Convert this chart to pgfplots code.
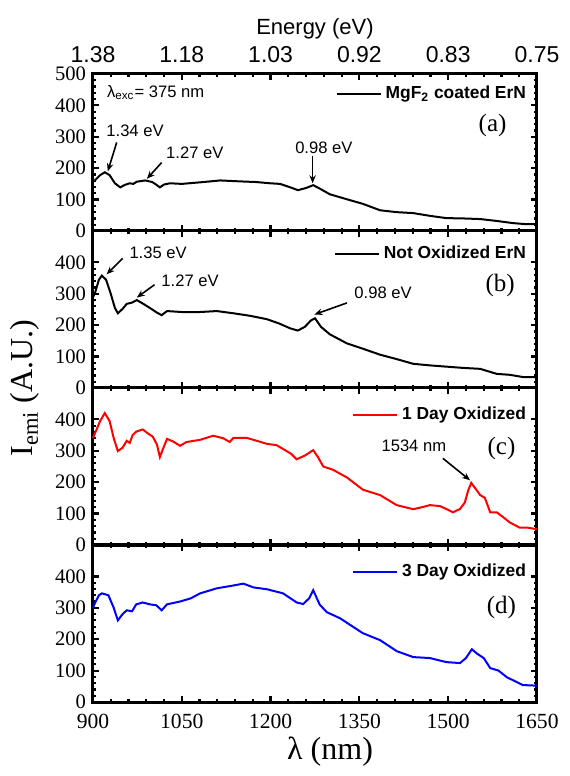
\documentclass[border=0pt]{standalone}
\usepackage{fontspec}
\setmainfont{Liberation Serif}
\setsansfont{Liberation Sans}
\usepackage{pgfplots}
\pgfplotsset{compat=1.18}
\usetikzlibrary{arrows.meta}

\pgfplotsset{
  panel/.style={
    scale only axis, width=222pt, height=78.5pt,
    xmin=900, xmax=1650, ymin=0, ymax=500,
    xtick={900,1050,...,1650}, minor x tick num=4,
    ytick={0,100,...,400}, minor y tick num=4,
    tick align=inside, clip=false,
    axis line style={line width=1.5pt},
    major tick length=3pt, minor tick length=1.6pt,
    every tick/.style={black, line width=1.1pt},
    /pgf/number format/assume math mode=true,
    /pgf/number format/1000 sep={},
    yticklabel style={font=\fontsize{10.3}{12}\selectfont},
    xticklabel style={font=\fontsize{10.8}{13}\selectfont, yshift=-2.5pt},
    legend cell align=left,
    legend image code/.code={\draw[#1] (0pt,0pt) -- (22pt,0pt);},
    legend style={draw=none, fill=none, inner sep=0pt,
      font=\sffamily\bfseries\fontsize{8.7}{10}\selectfont},
  },
}
\tikzset{
  lbl/.style={font=\fontsize{12.5}{15}\selectfont},
  ann/.style={font=\sffamily\fontsize{8.3}{10}\selectfont},
  arr/.style={-{Stealth[length=4pt,width=3.2pt]}, line width=0.8pt},
}

\begin{document}
\begin{tikzpicture}
\useasboundingbox (-46.5pt,-37pt) rectangle (238pt,351pt);

% (a) MgF2 coated
\begin{axis}[panel, at={(0,235.5pt)},
  ytick={0,100,...,500},
  xticklabel pos=right,
  xticklabels={1.38,1.18,1.03,0.92,0.83,0.75},
  xticklabel style={font=\sffamily\fontsize{11.5}{13}\selectfont, yshift=4.5pt},
  legend style={at={(0.985,0.873)}, anchor=east}]
\addplot[black, line width=1pt] coordinates {
(900,158)(903,161)(912,178)(920,187)(928,178)(937,152)(946,139)(954,147)(962,152)
(968,150)(974,157)(988,161)(1000,156)(1008,146)(1013,139)(1020,148)(1030,152)
(1050,150)(1081,155)(1115,161)(1148,158)(1175,156)(1199,152)(1216,150)(1235,138)
(1246,130)(1260,137)(1272,146)(1285,133)(1300,117)(1329,101)(1355,87)(1385,66)
(1413,60)(1441,57)(1470,48)(1497,41)(1525,40)(1554,38)(1582,32)(1610,25)(1630,22)(1650,22)};
\legend{MgF\textsubscript{2} coated ErN}
\node[font=\sffamily\fontsize{11}{13}\selectfont] at (rel axis cs:0.5,1) [yshift=22.5pt] {Energy (eV)};
\node[ann, anchor=west] at (axis cs:912,440) {λ\textsubscript{exc}= 375 nm};
\node[lbl] at (rel axis cs:0.90,0.67) {(a)};
\node[ann] at (axis cs:971,320) {1.34 eV};
\draw[arr] (axis cs:940,282) -- (axis cs:925,190);
\node[ann] at (axis cs:1072,250) {1.27 eV};
\draw[arr] (axis cs:1016,218) -- (axis cs:991,166);
\node[ann] at (axis cs:1290,266) {0.98 eV};
\draw[arr] (axis cs:1271,240) -- (axis cs:1271,152);
\end{axis}

% (b) not oxidized
\begin{axis}[panel, at={(0,157pt)}, xticklabels={},
  legend style={at={(0.985,0.853)}, anchor=east}]
\addplot[black, line width=1pt] coordinates {
(900,290)(903,300)(910,345)(915,358)(922,345)(930,300)(937,255)(942,238)(950,252)
(957,268)(966,272)(974,280)(985,268)(996,255)(1008,240)(1016,232)(1025,245)(1050,242)
(1081,242)(1109,245)(1137,238)(1165,230)(1194,219)(1215,205)(1233,190)(1246,183)
(1258,195)(1268,215)(1275,222)(1285,195)(1300,171)(1329,142)(1356,125)(1385,106)
(1413,92)(1441,77)(1469,72)(1497,68)(1525,64)(1554,61)(1582,45)(1604,42)(1626,35)(1650,35)};
\legend{Not Oxidized ErN}
\node[lbl] at (rel axis cs:0.917,0.65) {(b)};
\node[ann] at (axis cs:1010,431) {1.35 eV};
\draw[arr] (axis cs:950,413) -- (axis cs:923,362);
\node[ann] at (axis cs:1064,342) {1.27 eV};
\draw[arr] (axis cs:1004,329) -- (axis cs:974,288);
\node[ann] at (axis cs:1390,303) {0.98 eV};
\draw[arr] (axis cs:1329,271) -- (axis cs:1274,234);
\end{axis}

% (c) 1 day oxidized
\begin{axis}[panel, at={(0,78.5pt)}, xticklabels={},
  legend style={at={(0.985,0.83)}, anchor=east}]
\addplot[red, line width=1pt] coordinates {
(900,340)(903,354)(912,395)(920,420)(928,395)(935,340)(942,299)(950,310)(957,332)
(962,325)(967,350)(973,361)(984,368)(993,355)(1001,345)(1008,320)(1013,280)(1018,305)
(1025,338)(1035,330)(1047,316)(1058,328)(1081,335)(1103,348)(1120,340)(1131,328)
(1137,341)(1160,341)(1180,330)(1194,322)(1210,318)(1221,306)(1235,290)(1244,273)
(1258,285)(1272,302)(1280,280)(1289,250)(1305,240)(1329,215)(1356,176)(1385,159)
(1413,127)(1441,114)(1455,120)(1469,127)(1486,124)(1500,112)(1508,104)(1520,115)
(1528,135)(1534,175)(1539,198)(1546,180)(1554,159)(1562,150)(1571,104)(1582,104)
(1592,90)(1604,72)(1621,55)(1635,55)(1650,50)};
\legend{1 Day Oxidized}
\node[lbl] at (rel axis cs:0.92,0.614) {(c)};
\node[ann] at (axis cs:1442,315) {1534 nm};
\draw[arr] (axis cs:1491,276) -- (axis cs:1537,206);
\node[rotate=90, font=\fontsize{16}{19}\selectfont] at (rel axis cs:-0.153,1) {I\textsubscript{emi} (A.U.)};
\end{axis}

% (d) 3 day oxidized
\begin{axis}[panel, at={(0,0)},
  legend style={at={(0.985,0.83)}, anchor=east}]
\addplot[blue, line width=1pt] coordinates {
(900,300)(903,314)(910,340)(915,346)(926,340)(935,300)(942,260)(950,280)(957,292)
(966,289)(973,311)(984,317)(996,311)(1007,308)(1016,292)(1025,311)(1047,320)(1065,330)
(1081,346)(1109,362)(1137,371)(1154,377)(1171,365)(1194,359)(1221,346)(1244,317)
(1255,312)(1265,330)(1272,356)(1283,310)(1295,286)(1317,267)(1356,219)(1385,197)
(1413,162)(1441,143)(1469,140)(1497,127)(1520,124)(1530,140)(1540,168)(1548,155)
(1560,140)(1571,108)(1585,100)(1599,79)(1626,54)(1650,52)};
\legend{3 Day Oxidized}
\node[lbl] at (rel axis cs:0.92,0.60) {(d)};
\node[font=\fontsize{16}{19}\selectfont] at (rel axis cs:0.534,0) [yshift=-25pt] {λ (nm)};
\end{axis}
\end{tikzpicture}
\end{document}
